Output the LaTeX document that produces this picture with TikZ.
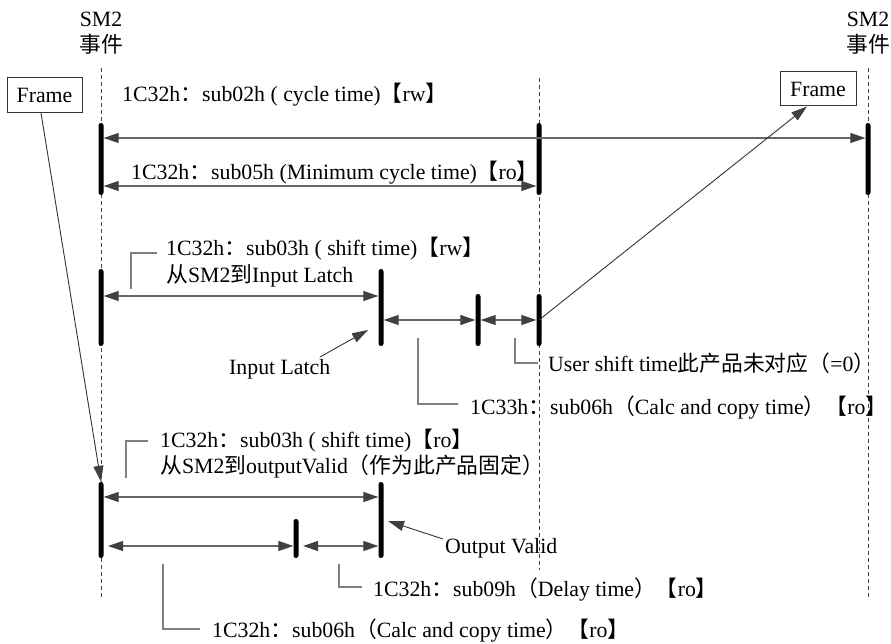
\documentclass[tikz,border=0pt]{standalone}
\usepackage{fontspec}
\setmainfont{Liberation Serif}
\newfontfamily\cjk{Noto Sans CJK SC}
\usetikzlibrary{arrows.meta}
\newcommand\zh[1]{{\cjk #1}}
\begin{document}
\begin{tikzpicture}[x=1pt,y=-1pt,
  txt/.style={font=\fontsize{21.8}{26}\selectfont, inner sep=0pt, anchor=base west},
  ctxt/.style={font=\fontsize{21.8}{26}\selectfont, inner sep=0pt, anchor=base},
  barnode/.style={rectangle, fill=black, draw=none, minimum width=5pt, inner sep=0pt, rounded corners=2.4pt},
  life/.style={dash pattern=on 4pt off 3pt, line width=0.8pt, draw=black!75},
  dim/.style={{Triangle[length=15pt,width=10pt,color=black!75]}-{Triangle[length=15pt,width=10pt,color=black!75]}, line width=1.2pt, draw=black!60},
  lead/.style={line width=1.2pt, draw=black!50},
  ptr/.style={-{Triangle[length=16pt,width=10pt,color=black!75]}, line width=0.9pt, draw=black!80},
  framebox/.style={draw=black!80, line width=1pt, fill=white, minimum width=75pt, minimum height=35pt, inner sep=0pt, font=\fontsize{21.8}{26}\selectfont}
]
\useasboundingbox (0,0) rectangle (891,644);

% lifelines
\coordinate (l1t) at (101,68);  \coordinate (l1b) at (101,599);
\coordinate (l2t) at (539,78);  \coordinate (l2b) at (539,570);
\coordinate (l3t) at (868,68);  \coordinate (l3b) at (868,599);
\draw[life] (l1t) -- (l1b);
\draw[life] (l2t) -- (l2b);
\draw[life] (l3t) -- (l3b);

% SM2 labels
\node[ctxt] (sm2l) at (101,27) {SM2};
\node[ctxt] (evl) at (101,53) {\zh{事件}};
\node[ctxt] (sm2r) at (868,27) {SM2};
\node[ctxt] (evr) at (868,53) {\zh{事件}};

% bars
\node[barnode, minimum height=72pt] (B1) at (101,159) {};
\node[barnode, minimum height=72pt] (B2) at (539,159) {};
\node[barnode, minimum height=72pt] (B3) at (868,159) {};
\node[barnode, minimum height=77pt] (B4) at (101,307.5) {};
\node[barnode, minimum height=77pt] (B5) at (381,307.5) {};
\node[barnode, minimum height=52pt] (B6) at (478,320) {};
\node[barnode, minimum height=52pt] (B7) at (539,320) {};
\node[barnode, minimum height=76pt] (B8) at (101,520) {};
\node[barnode, minimum height=76pt] (B9) at (381,520) {};
\node[barnode, minimum height=39pt] (B10) at (296,538.5) {};

% y levels
\coordinate (y1) at (0,138);
\coordinate (y2) at (0,186);
\coordinate (y3) at (0,296);
\coordinate (y4) at (0,320);
\coordinate (y5) at (0,497);
\coordinate (y6) at (0,546);
\coordinate (a7l) at (108,546);
\coordinate (a8l) at (303,546);

% dimension arrows
\draw[dim] (B1.east |- y1) -- (B3.west |- y1);
\draw[dim] (B1.east |- y2) -- (B2.west |- y2);
\draw[dim] (B4.east |- y3) -- (B5.west |- y3);
\draw[dim] (B5.east |- y4) -- (B6.west |- y4);
\draw[dim] (B6.east |- y4) -- (B7.west |- y4);
\draw[dim] (B8.east |- y5) -- (B9.west |- y5);
\draw[dim] (a7l) -- (B10.west |- y6);
\draw[dim] (a8l) -- (B9.west |- y6);

% texts
\node[txt] (t1) at (122,102) {1C32h\zh{：}sub02h ( cycle time)\zh{【}rw\zh{】}};
\node[txt] (t2) at (131,180) {1C32h\zh{：}sub05h (Minimum cycle time)\zh{【}ro\zh{】}};
\node[txt] (t3) at (166,255) {1C32h\zh{：}sub03h ( shift time)\zh{【}rw\zh{】}};
\node[txt] (t4) at (166,283) {\zh{从}SM2\zh{到}Input Latch};
\node[txt] (t5) at (229,374) {Input Latch};
\node[txt] (t6) at (548,371) {User shift time\zh{此产品未对应（}=0\zh{）}};
\node[txt] (t7) at (470,414) {1C33h\zh{：}sub06h\zh{（}Calc and copy time\zh{）【}ro\zh{】}};
\node[txt] (t8) at (160,447) {1C32h\zh{：}sub03h ( shift time)\zh{【}ro\zh{】}};
\node[txt] (t9) at (160,473) {\zh{从}SM2\zh{到}outputValid\zh{（作为此产品固定）}};
\node[txt] (t10) at (445,553) {Output Valid};
\node[txt] (t11) at (373,596) {1C32h\zh{：}sub09h\zh{（}Delay time\zh{）【}ro\zh{】}};
\node[txt] (t12) at (212,637) {1C32h\zh{：}sub06h\zh{（}Calc and copy time\zh{）【}ro\zh{】}};

% leader lines
\coordinate (ld1a) at (131,289); \coordinate (ld1b) at (157,253);
\coordinate (ld2a) at (418,338); \coordinate (ld2b) at (458,404);
\coordinate (ld3a) at (515,338); \coordinate (ld3b) at (538,363);
\coordinate (ld4a) at (126,478); \coordinate (ld4b) at (148,441);
\coordinate (ld5a) at (163,564); \coordinate (ld5b) at (200,629);
\coordinate (ld6a) at (339,564); \coordinate (ld6b) at (362,587);
\draw[lead] (ld1a) |- (ld1b);
\draw[lead] (ld2a) |- (ld2b);
\draw[lead] (ld3a) |- (ld3b);
\draw[lead] (ld4a) |- (ld4b);
\draw[lead] (ld5a) |- (ld5b);
\draw[lead] (ld6a) |- (ld6b);

% frames
\node[framebox] (fl) at (44.5,95) {Frame};
\node[framebox, minimum width=76pt, minimum height=34pt] (fr) at (818,89) {Frame};
\draw[ptr] ([xshift=-3.5pt]fl.south) -- (B8.north);
\draw[ptr] (B7.center) -- ([xshift=-11pt]fr.south);

% pointers
\coordinate (ilt) at (320,357); \coordinate (ilh) at (368,330);
\coordinate (ovt) at (443,539); \coordinate (ovh) at (388,521);
\draw[ptr] (ilt) -- (ilh);
\draw[ptr] (ovt) -- (ovh);
\end{tikzpicture}
\end{document}
